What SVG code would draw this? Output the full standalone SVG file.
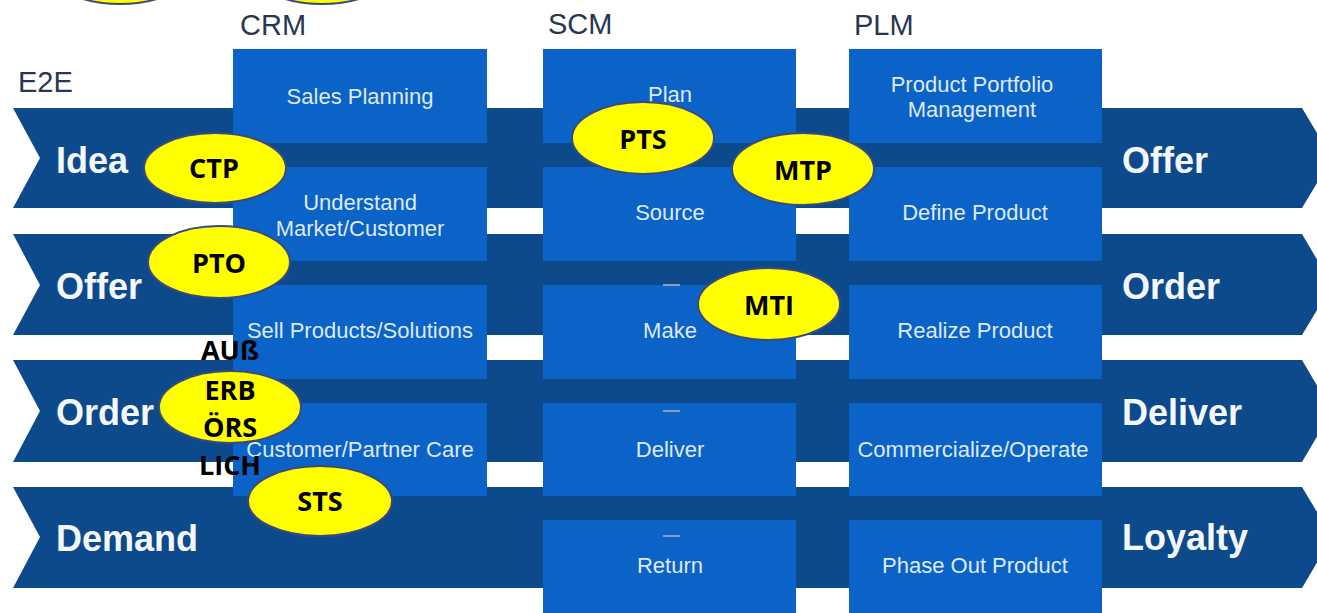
<svg xmlns="http://www.w3.org/2000/svg" width="1317" height="613" viewBox="0 0 1317 613">
<style>
.band{fill:#0d4a8b}
.box{fill:#0b63c8}
.hdr{font-family:"Liberation Sans",Arial,sans-serif;font-size:29px;fill:#293752}
.blab{font-family:"Liberation Sans",Arial,sans-serif;font-size:36px;font-weight:bold;fill:#f4f7fc}
.btx{font-family:"Liberation Sans",Arial,sans-serif;font-size:22px;fill:#dfe9f7;text-anchor:middle}
.dash{stroke:#8c9cc0;stroke-width:2}
.ell{fill:#ffff00;stroke:#3b4a7c;stroke-width:2}
.etx{font-family:"Open Sans","Liberation Sans",sans-serif;font-size:27px;font-weight:bold;fill:#000;text-anchor:middle}
</style>
<rect width="1317" height="613" fill="#ffffff"/>

<g id="bands">
<polygon class="band" points="13,108 1302,108 1332,158 1302,208 13,208 40,158"/>
<polygon class="band" points="13,234 1302,234 1332,285 1302,335 13,335 40,285"/>
<polygon class="band" points="13,360 1302,360 1332,411 1302,462 13,462 40,411"/>
<polygon class="band" points="13,487 1302,487 1332,537 1302,588 13,588 40,537"/>
</g>

<g id="headers">
<text class="hdr" x="18" y="92">E2E</text>
<text class="hdr" x="240" y="35">CRM</text>
<text class="hdr" x="548" y="34">SCM</text>
<text class="hdr" x="854" y="35">PLM</text>
</g>

<g id="band-labels">
<text class="blab" x="56" y="173">Idea</text>
<text class="blab" x="56" y="299">Offer</text>
<text class="blab" x="56" y="425">Order</text>
<text class="blab" x="56" y="551">Demand</text>
<text class="blab" x="1122" y="173">Offer</text>
<text class="blab" x="1122" y="299">Order</text>
<text class="blab" x="1122" y="425">Deliver</text>
<text class="blab" x="1122" y="550">Loyalty</text>
</g>

<g id="crm-sales-planning"><rect class="box" x="233" y="49" width="254" height="94"/><text class="btx" x="360" y="104">Sales Planning</text></g>
<g id="crm-understand"><rect class="box" x="233" y="167" width="254" height="94"/><text class="btx" x="360" y="210">Understand</text><text class="btx" x="360" y="236">Market/Customer</text></g>
<g id="crm-sell"><rect class="box" x="233" y="285" width="254" height="94"/><text class="btx" x="360" y="338">Sell Products/Solutions</text></g>
<g id="crm-care"><rect class="box" x="233" y="403" width="254" height="93"/><text class="btx" x="360" y="457">Customer/Partner Care</text></g>

<g id="scm-plan"><rect class="box" x="543" y="49" width="253" height="94"/><text class="btx" x="670" y="102">Plan</text></g>
<g id="scm-source"><rect class="box" x="543" y="167" width="253" height="94"/><text class="btx" x="670" y="220">Source</text></g>
<g id="scm-make"><rect class="box" x="543" y="285" width="253" height="94"/><line class="dash" x1="663" y1="285" x2="680" y2="285"/><text class="btx" x="670" y="338">Make</text></g>
<g id="scm-deliver"><rect class="box" x="543" y="403" width="253" height="93"/><line class="dash" x1="663" y1="411" x2="680" y2="411"/><text class="btx" x="670" y="457">Deliver</text></g>
<g id="scm-return"><rect class="box" x="543" y="520" width="253" height="93"/><line class="dash" x1="663" y1="536" x2="680" y2="536"/><text class="btx" x="670" y="573">Return</text></g>

<g id="plm-portfolio"><rect class="box" x="849" y="49" width="253" height="94"/><text class="btx" x="972" y="92">Product Portfolio</text><text class="btx" x="972" y="117">Management</text></g>
<g id="plm-define"><rect class="box" x="849" y="167" width="253" height="94"/><text class="btx" x="975" y="220">Define Product</text></g>
<g id="plm-realize"><rect class="box" x="849" y="285" width="253" height="94"/><text class="btx" x="975" y="338">Realize Product</text></g>
<g id="plm-commercialize"><rect class="box" x="849" y="403" width="253" height="93"/><text class="btx" x="973" y="457">Commercialize/Operate</text></g>
<g id="plm-phaseout"><rect class="box" x="849" y="520" width="253" height="93"/><text class="btx" x="975" y="573">Phase Out Product</text></g>

<g id="connectors"></g>

<g id="top-ellipse-1"><ellipse class="ell" cx="120" cy="-31" rx="71" ry="35"/></g>
<g id="top-ellipse-2"><ellipse class="ell" cx="322" cy="-31" rx="71" ry="35"/></g>
<g id="ctp"><ellipse class="ell" cx="215" cy="168" rx="71" ry="35"/><text class="etx" x="214" y="178">CTP</text></g>
<g id="pto"><ellipse class="ell" cx="219" cy="262" rx="71" ry="36"/><text class="etx" x="219" y="273">PTO</text></g>
<g id="ausserboerslich"><ellipse class="ell" cx="230" cy="407" rx="71" ry="36"/>
<text class="etx" x="230" y="360">AUß</text><text class="etx" x="230" y="400">ERB</text><text class="etx" x="230" y="437">ÖRS</text><text class="etx" x="230" y="475">LICH</text></g>
<g id="sts"><ellipse class="ell" cx="320" cy="501" rx="72" ry="35"/><text class="etx" x="320" y="511">STS</text></g>
<g id="pts"><ellipse class="ell" cx="643" cy="138" rx="71" ry="36"/><text class="etx" x="643" y="149">PTS</text></g>
<g id="mtp"><ellipse class="ell" cx="803" cy="169" rx="71" ry="36"/><text class="etx" x="803" y="180">MTP</text></g>
<g id="mti"><ellipse class="ell" cx="769" cy="304" rx="71" ry="36"/><text class="etx" x="769" y="315">MTI</text></g>
</svg>
